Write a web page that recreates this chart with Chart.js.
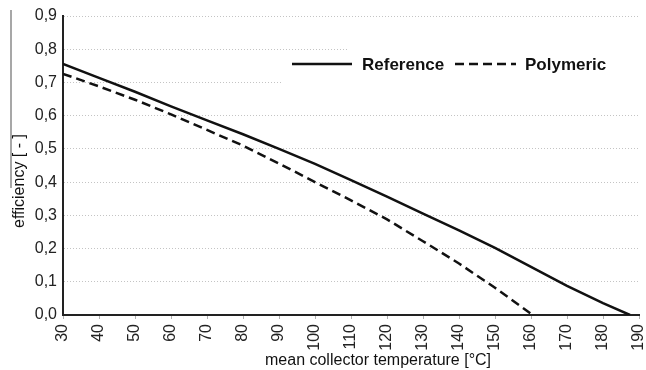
<!DOCTYPE html>
<html>
<head>
<meta charset="utf-8">
<script src="https://cdn.jsdelivr.net/npm/chart.js@4/dist/chart.umd.min.js"></script>
<style>
  html, body { margin: 0; padding: 0; background: #fff; }
  #wrap { width: 646px; height: 370px; }
</style>
</head>
<body>
<div id="wrap"><canvas id="c" width="646" height="370"></canvas></div>
<script>
// ---- data ----
const refTemps  = [30, 40, 50, 60, 70, 80, 90, 100, 110, 120, 130, 140, 150, 160, 170, 180, 187.5];
const refEff    = [0.756, 0.714, 0.672, 0.628, 0.586, 0.544, 0.500, 0.455, 0.406, 0.356, 0.305, 0.255, 0.202, 0.145, 0.088, 0.036, 0.0];
const polyTemps = [30, 40, 50, 60, 70, 80, 90, 100, 110, 120, 130, 140, 150, 160.5];
const polyEff   = [0.726, 0.688, 0.648, 0.604, 0.557, 0.510, 0.456, 0.400, 0.345, 0.288, 0.222, 0.155, 0.082, 0.0];
const seriesNames = ['Reference', 'Polymeric'];
const xTitle = 'mean collector temperature [°C]';
const yTitle = 'efficiency [ - ]';

const toPts = (xs, ys) => xs.map((x, i) => ({ x: x, y: ys[i] }));

const coverPlugin = {
  id: 'cover',
  beforeDatasetsDraw(chart) {
    const ctx = chart.ctx;
    ctx.save();
    ctx.fillStyle = '#ffffff';
    ctx.fillRect(348, 38, 300, 24);
    ctx.fillRect(283, 60, 365, 32);
    ctx.restore();
  }
};

const legendPlugin = {
  id: 'manualLegend',
  afterDatasetsDraw(chart) {
    const ctx = chart.ctx;
    const y = 64;
    const items = [
      { ds: chart.data.datasets[0], x0: 292, x1: 352, tx: 362 },
      { ds: chart.data.datasets[1], x0: 455, x1: 516, tx: 525 }
    ];
    ctx.save();
    items.forEach(it => {
      ctx.beginPath();
      ctx.setLineDash(it.ds.borderDash || []);
      ctx.lineWidth = it.ds.borderWidth;
      ctx.strokeStyle = it.ds.borderColor;
      ctx.moveTo(it.x0, y);
      ctx.lineTo(it.x1, y);
      ctx.stroke();
      ctx.setLineDash([]);
      ctx.fillStyle = '#111';
      ctx.font = 'bold 17px "Liberation Sans", Arial, sans-serif';
      ctx.textAlign = 'left';
      ctx.textBaseline = 'middle';
      ctx.fillText(it.ds.label, it.tx, y + 1);
    });
    ctx.restore();
  }
};

const titlePlugin = {
  id: 'titles',
  afterDraw(chart) {
    const ctx = chart.ctx;
    ctx.save();
    ctx.fillStyle = '#111';
    ctx.font = '16px "Liberation Sans", Arial, sans-serif';
    ctx.textAlign = 'left';
    ctx.textBaseline = 'alphabetic';
    ctx.fillText(xTitle, 265, 365);
    ctx.translate(24, 228);
    ctx.rotate(-Math.PI / 2);
    ctx.fillText(yTitle, 0, 0);
    ctx.restore();
    // thin grey vertical stroke at the far left of the reference
    ctx.save();
    ctx.strokeStyle = '#8a8a8a';
    ctx.lineWidth = 1.5;
    ctx.beginPath();
    ctx.moveTo(11, 10);
    ctx.lineTo(11, 188);
    ctx.stroke();
    ctx.restore();
  }
};

new Chart(document.getElementById('c'), {
  type: 'line',
  data: {
    datasets: [
      {
        label: seriesNames[0],
        data: toPts(refTemps, refEff),
        borderColor: '#111',
        borderWidth: 2.5,
        pointRadius: 0,
        fill: false,
        tension: 0
      },
      {
        label: seriesNames[1],
        data: toPts(polyTemps, polyEff),
        borderColor: '#111',
        borderWidth: 2.5,
        borderDash: [9, 5],
        pointRadius: 0,
        fill: false,
        tension: 0
      }
    ]
  },
  options: {
    responsive: false,
    devicePixelRatio: 1,
    animation: false,
    layout: { padding: { top: 16, right: 7, left: 0, bottom: 0 } },
    plugins: { legend: { display: false }, tooltip: { enabled: false } },
    scales: {
      x: {
        type: 'linear',
        min: 30,
        max: 190,
        afterFit(s) { s.height = 55; s.paddingRight = 0; s.paddingLeft = 0; },
        ticks: {
          stepSize: 10,
          minRotation: 90,
          maxRotation: 90,
          padding: 5,
          color: '#222',
          font: { family: '"Liberation Sans", Arial, sans-serif', size: 16 }
        },
        grid: { drawOnChartArea: false, drawTicks: true, tickLength: 4, color: '#b0b0b0' },
        border: { display: true, color: '#222', width: 2 }
      },
      y: {
        min: 0,
        max: 0.9,
        afterFit(s) { s.width = 63; },
        ticks: {
          stepSize: 0.1,
          padding: 6,
          color: '#222',
          font: { family: '"Liberation Sans", Arial, sans-serif', size: 16 },
          callback: v => v.toFixed(1).replace('.', ',')
        },
        grid: { drawTicks: false, color: '#c4c4c4', lineWidth: 1 },
        border: { display: true, color: '#222', width: 2, dash: [1, 2] }
      }
    }
  },
  plugins: [coverPlugin, legendPlugin, titlePlugin]
});
</script>
</body>
</html>
